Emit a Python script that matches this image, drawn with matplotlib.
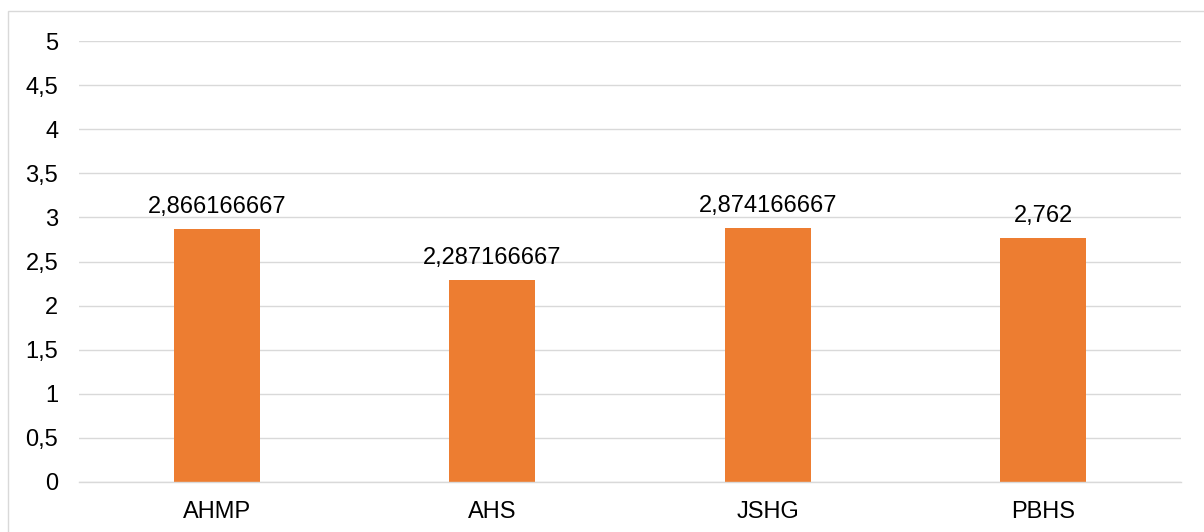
import matplotlib
matplotlib.use("Agg")
import matplotlib.pyplot as plt
from matplotlib.patches import Rectangle

categories = ["AHMP", "AHS", "JSHG", "PBHS"]
values = [2.866166667, 2.287166667, 2.874166667, 2.762]
yticks = [0, 0.5, 1, 1.5, 2, 2.5, 3, 3.5, 4, 4.5, 5]

plt.rcParams["font.family"] = ["Liberation Sans", "DejaVu Sans"]

W, H, DPI = 1204, 532, 100
FS = 17
fig = plt.figure(figsize=(W / DPI, H / DPI), dpi=DPI)
fig.patch.set_facecolor("white")

# chart area frame (runs off the right and bottom edges)
fig.patches.append(Rectangle((8 / W, -0.1), 1.2, (H - 11) / H + 0.1,
                             transform=fig.transFigure, fill=False,
                             edgecolor="#D9D9D9", linewidth=1.0))

left, right, top, bottom = 79, 1181, 41, 482
ax = fig.add_axes([left / W, 1 - bottom / H, (right - left) / W, (bottom - top) / H])

x = list(range(len(categories)))
bars = ax.bar(x, values, width=0.312, color="#ED7D31", zorder=3)

ax.set_xlim(-0.5, len(categories) - 0.5)
ax.set_ylim(0, 5)
ax.set_yticks(yticks)
ax.set_yticklabels([f"{t:g}".replace(".", ",") for t in yticks])
ax.set_xticks(x)
ax.set_xticklabels(categories)

ax.grid(axis="y", color="#D9D9D9", linewidth=1.0, zorder=0)
for s in ["left", "right", "top"]:
    ax.spines[s].set_visible(False)
ax.spines["bottom"].set_color("#D9D9D9")
ax.spines["bottom"].set_linewidth(1.0)
ax.spines["bottom"].set_zorder(4)

ax.tick_params(axis="both", length=0, labelsize=FS, colors="black")
ax.tick_params(axis="y", pad=15)
ax.tick_params(axis="x", pad=14)

for xi, v in zip(x, values):
    ax.annotate(f"{v:.10g}".replace(".", ","), (xi, v), xytext=(0, 8),
                textcoords="offset points", ha="center", va="bottom",
                fontsize=FS, color="black")

fig.savefig("out.png", dpi=DPI)
